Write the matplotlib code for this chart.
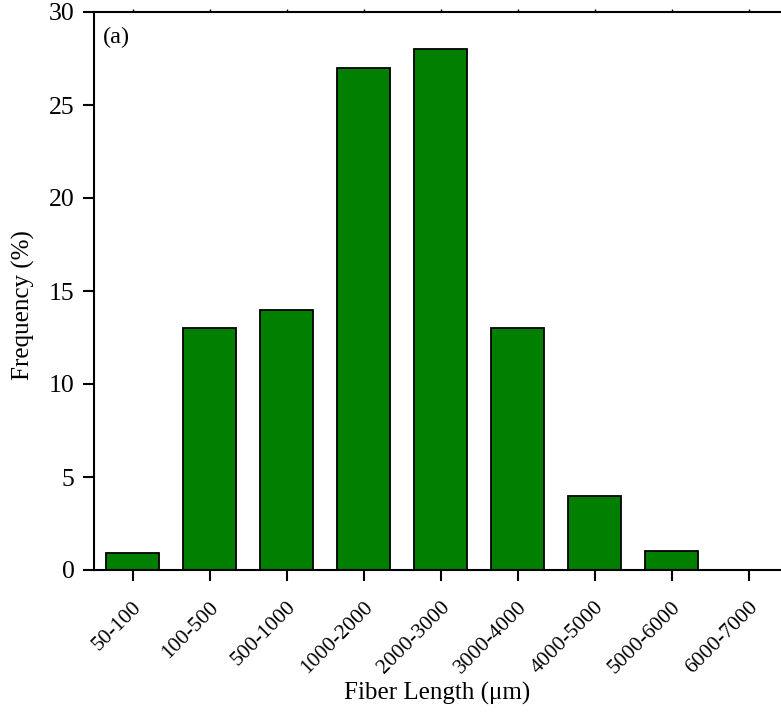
import matplotlib
matplotlib.use("Agg")
import matplotlib.pyplot as plt
import numpy as np

# 纤维长度分布数据
categories = ["50-100", "100-500", "500-1000", "1000-2000", "2000-3000",
              "3000-4000", "4000-5000", "5000-6000", "6000-7000"]
frequency = [0.9, 13, 14, 27, 28, 13, 4, 1, 0]
y_ticks = [0, 5, 10, 15, 20, 25, 30]

plt.rcParams['font.family'] = ['Liberation Serif', 'DejaVu Serif']

fig = plt.figure(figsize=(7.81, 7.14), dpi=100)
ax = fig.add_axes([94 / 781, 1 - 570 / 714, 693 / 781, 558 / 714])

x = np.arange(len(categories))
ax.bar(x, frequency, width=0.7, color='#007f00', edgecolor='black', linewidth=1.3)

ax.set_xlim(-0.5, len(categories) - 0.5)
ax.set_ylim(0, 30)
ax.set_yticks(y_ticks)
ax.set_xticks(x)
ax.set_xticklabels(categories, rotation=45, ha='right', rotation_mode='anchor', fontsize=15.5)
ax.tick_params(axis='y', direction='out', length=8, width=1.5, labelsize=18.5, pad=6)
ax.tick_params(axis='x', direction='out', length=8, width=1.5, pad=12)
# 顶部小刻度
ax.tick_params(axis='x', top=True)
for t in ax.xaxis.get_major_ticks():
    t.tick2line.set_markersize(2)
    t.tick2line.set_markeredgewidth(1)
for s in ax.spines.values():
    s.set_linewidth(1.5)

ax.set_xlabel('Fiber Length (μm)', fontsize=18)
ax.xaxis.set_label_coords(0.495, -0.2)
ax.set_ylabel('Frequency (%)', fontsize=18)
ax.yaxis.set_label_coords(-0.085, 0.475)
ax.text(0.013, 0.955, '(a)', transform=ax.transAxes, fontsize=17.5, va='center', ha='left')

fig.savefig('out.png', dpi=100)
